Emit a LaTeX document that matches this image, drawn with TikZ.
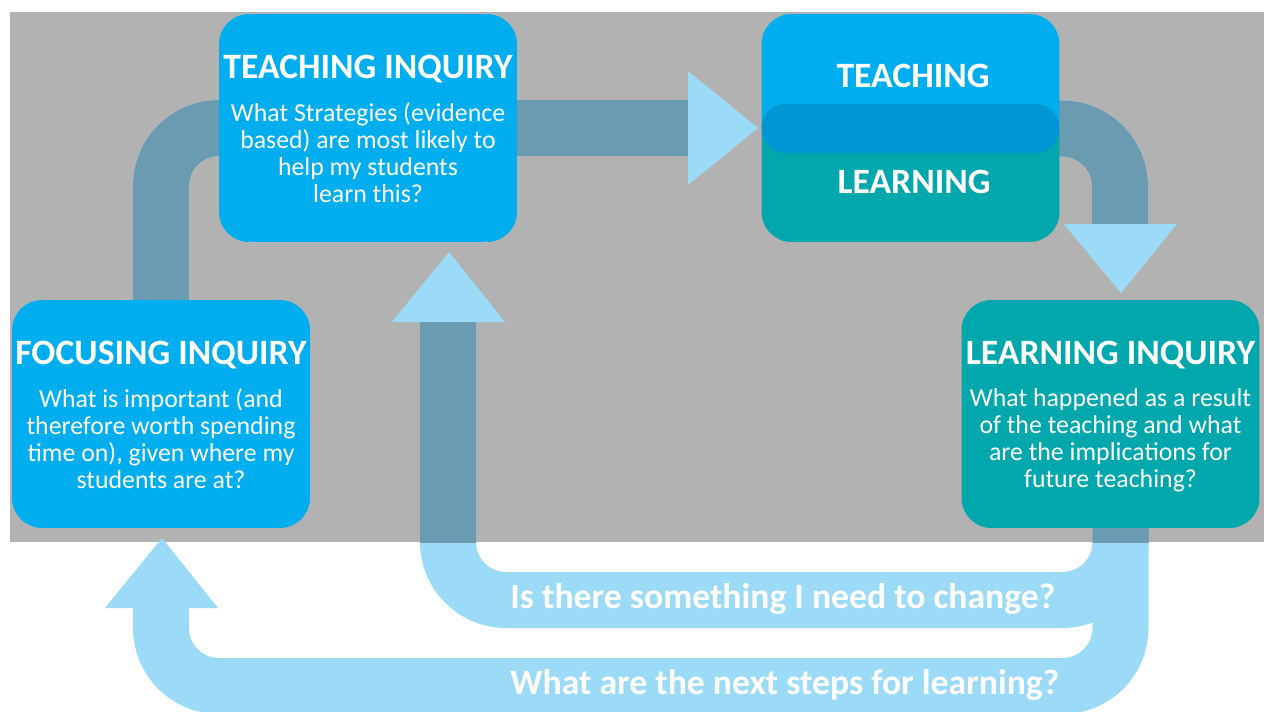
\documentclass[tikz,border=0pt]{standalone}
\usepackage{fontspec}
\setmainfont{Carlito}
\usepackage{xcolor}
\usetikzlibrary{positioning, backgrounds}

\definecolor{bggray}{HTML}{B2B2B2}
\definecolor{inqblue}{HTML}{00AEEF}
\definecolor{inqteal}{HTML}{00A8AD}
\definecolor{inqmid}{HTML}{0096D3}
\definecolor{bandlight}{HTML}{9CDBF7}
\definecolor{banddark}{HTML}{6B9BB0}

\tikzset{
  inqbox/.style={rectangle, rounded corners=0.6cm, minimum width=5.96cm, minimum height=4.56cm, inner sep=0pt},
  inqtitle/.style={text=white, font=\fontsize{20.3}{24}\selectfont\bfseries, inner sep=0pt},
  inqtext/.style={text=white, font=\fontsize{14.7}{15.3}\selectfont, align=center, inner sep=0pt},
  band/.style={line width=1.12cm, rounded corners=1.16cm},
  head/.style={fill=bandlight},
  bandlabel/.style={text=white, font=\fontsize{20.3}{24}\selectfont\bfseries, inner sep=0pt, anchor=base west}
}

% the thick loops, drawn once light and once dark inside the grey panel
\newcommand{\inqbands}[1]{%
  \draw[band, draw=#1] (focus.center) |- (teach.center);
  \draw[band, draw=#1] (teach.center) -- (h1);
  \draw[band, draw=#1] (mid.center) -| (h2);
  \draw[band, draw=#1] ([xshift=0.2cm]learn.center) |- (c1) -- (h3);
  \draw[band, draw=#1] ([xshift=0.2cm]learn.center) |- (c2) -- (h4);
}

\begin{document}
\begin{tikzpicture}[x=0.02cm, y=-0.02cm]
    \useasboundingbox (0,0) rectangle (1264,711);

    % boxes
    \node[inqbox, fill=inqblue] (teach) at (368,128) {};
    \node[inqbox, fill=inqblue] (focus) at (161,414) {};
    \node[inqbox, fill=inqteal] (learn) at (1110.5,414) {};
    \node[inqbox, fill=inqteal, minimum height=2.76cm] (lrn) at (910.5,173) {};
    \node[inqbox, fill=inqblue, minimum height=2.78cm] (tch) at (910.5,83.5) {};
    \node[inqbox, fill=inqmid, minimum height=0.98cm, rounded corners=0.48cm] (mid) at (910.5,128.5) {};

    % texts
    \node[inqtitle, below=0.82cm of teach.north] (teacht) {TEACHING INQUIRY};
    \node[inqtext, below=0.38cm of teacht] (teachq) {What Strategies (evidence\\based) are most likely to\\help my students\\learn this?};
    \node[inqtitle, below=0.82cm of focus.north] (focust) {FOCUSING INQUIRY};
    \node[inqtext, below=0.38cm of focust] (focusq) {What is important (and\\therefore worth spending\\time on), given where my\\students are at?};
    \node[inqtitle, below=0.82cm of learn.north] (learnt) {LEARNING INQUIRY};
    \node[inqtext, below=0.38cm of learnt] (learnq) {What happened as a result\\of the teaching and what\\are the implications for\\future teaching?};
    \node[inqtitle] (tcht) at (913,76) {TEACHING};
    \node[inqtitle] (lrnt) at (914,182) {LEARNING};

    \node[bandlabel] (chg) at (510,608) {Is there something I need to change?};
    \node[bandlabel] (nxt) at (510,694) {What are the next steps for learning?};

    % band ends and corners
    \coordinate (h1) at (688,128);
    \coordinate (h2) at (1120,224);
    \coordinate (h3) at (448,322);
    \coordinate (h4) at (161,608);
    \coordinate (c1) at (448,600);
    \coordinate (c2) at (161,686);

    \begin{scope}[on background layer]
        \fill[bggray] (10,12) rectangle (1264,542);
        \inqbands{bandlight}
        \begin{scope}
            \clip (10,12) rectangle (1264,542);
            \inqbands{banddark}
        \end{scope}
        % arrow heads
        \fill[head] (h1) ++(0,-57) -- ++(70,57) -- ++(-70,57) -- cycle;
        \fill[head] (h2) ++(-56,0) -- ++(113,0) -- ++(-56,69) -- cycle;
        \fill[head] (h3) ++(-56,0) -- ++(113,0) -- ++(-56,-70) -- cycle;
        \fill[head] (h4) ++(-56,0) -- ++(113,0) -- ++(-56,-70) -- cycle;
    \end{scope}
\end{tikzpicture}
\end{document}
